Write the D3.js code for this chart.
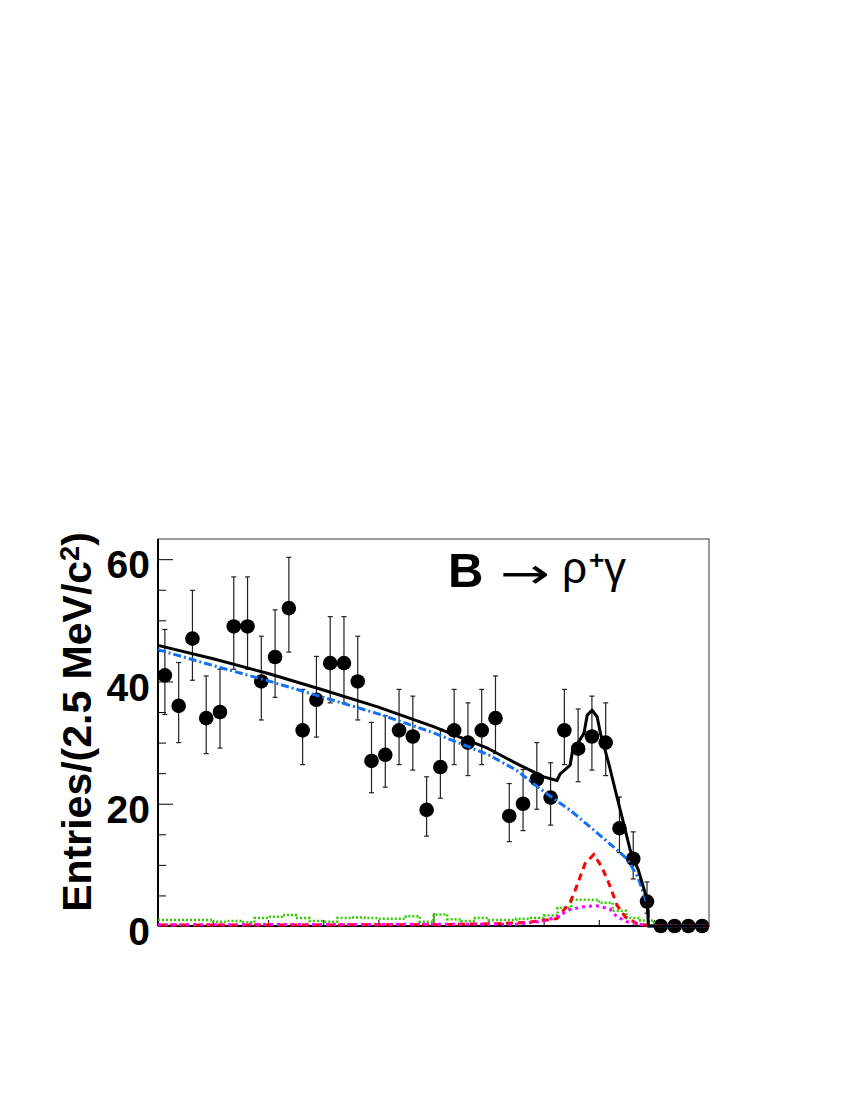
<!DOCTYPE html>
<html>
<head>
<meta charset="utf-8">
<script src="https://cdn.jsdelivr.net/npm/d3@7"></script>
<style>
  body { margin: 0; background: white; }
  svg { display: block; }
  .axis path { display: none; }
  .axis line { stroke: black; stroke-width: 1px; }
</style>
</head>
<body>
<div id="chart"></div>
<script>
// bin centres (2.5 MeV bins) and data
var binCenters = [5.20125, 5.20375, 5.20625, 5.20875, 5.21125, 5.21375, 5.21625, 5.21875,
  5.22125, 5.22375, 5.22625, 5.22875, 5.23125, 5.23375, 5.23625, 5.23875,
  5.24125, 5.24375, 5.24625, 5.24875, 5.25125, 5.25375, 5.25625, 5.25875,
  5.26125, 5.26375, 5.26625, 5.26875, 5.27125, 5.27375, 5.27625, 5.27875,
  5.28125, 5.28375, 5.28625, 5.28875, 5.29125, 5.29375, 5.29625, 5.29875];
var counts = [41, 36, 47, 34, 35, 49, 49, 40, 44, 52, 32, 37, 43, 43, 40, 27, 28, 32, 31, 19,
  26, 32, 30, 32, 34, 18, 20, 24, 21, 32, 29, 31, 30, 16, 11, 4, 0, 0, 0, 0];
var errUp = [7.5, 7.1, 7.9, 6.9, 7.0, 8.1, 8.1, 7.4, 7.7, 8.3, 6.7, 7.1, 7.6, 7.6, 7.4, 6.3, 6.4, 6.7, 6.6, 5.4,
  6.2, 6.7, 6.5, 6.7, 6.9, 5.3, 5.6, 6.0, 5.7, 6.7, 6.5, 6.6, 6.5, 5.1, 4.4, 3.2, 0, 0, 0, 0];
var errDown = [6.4, 6.0, 6.8, 5.8, 5.9, 7.0, 7.0, 6.3, 6.6, 7.2, 5.6, 6.1, 6.5, 6.5, 6.3, 5.2, 5.3, 5.6, 5.5, 4.3,
  5.1, 5.6, 5.4, 5.6, 5.8, 4.2, 4.4, 4.9, 4.5, 5.6, 5.4, 5.5, 5.4, 4.0, 3.3, 1.9, 0, 0, 0, 0];

// fit components
var totalMass = [5.200, 5.210, 5.220, 5.230, 5.240, 5.250, 5.260, 5.265, 5.270, 5.2724, 5.2730, 5.2748,
  5.2752, 5.2773, 5.2779, 5.2788, 5.2797, 5.2803, 5.2818, 5.2833, 5.2845, 5.2857, 5.2872, 5.2888, 5.2890, 5.300];
var totalVal = [45.9, 43.7, 41.3, 38.6, 35.8, 32.6, 29.0, 26.6, 24.4, 23.8, 24.9, 26.3,
  28.5, 31.5, 34.5, 35.3, 34.2, 31.5, 26.6, 21.1, 16.8, 12.4, 9.1, 4.2, 0, 0];

var argusMass = [5.200, 5.210, 5.220, 5.230, 5.240, 5.250, 5.260, 5.265, 5.270, 5.275, 5.280,
  5.2831, 5.2851, 5.2871, 5.2884, 5.2890, 5.2890, 5.300];
var argusVal = [45.2, 42.6, 40.1, 37.4, 34.7, 31.6, 28.0, 25.5, 22.0, 18.8, 15.0,
  12.6, 11.0, 8.0, 4.6, 2.5, 0, 0];

var signalMass = [5.200, 5.250, 5.262, 5.267, 5.2724, 5.2748, 5.2757, 5.2766, 5.2775, 5.2791,
  5.2805, 5.2816, 5.2824, 5.2833, 5.2848, 5.2869, 5.2890, 5.300];
var signalVal = [0.15, 0.2, 0.4, 0.6, 1.2, 3.9, 5.8, 8.0, 10.2, 11.7,
  9.7, 7.5, 5.6, 3.4, 1.5, 0.4, 0.1, 0];

var crossMass = [5.200, 5.265, 5.270, 5.2724, 5.2748, 5.2775, 5.2796, 5.2820, 5.2833, 5.2851, 5.2872, 5.2890, 5.300];
var crossVal = [0.2, 0.3, 0.8, 1.5, 2.7, 3.2, 3.3, 2.8, 1.5, 0.7, 0.3, 0.1, 0];

var bbarPerBin = [1.0, 1.0, 1.0, 1.0, 0.7, 0.8, 0.6, 1.3, 1.5, 1.8, 1.3, 0.8, 0.7, 1.3, 1.4, 1.3, 1.2, 1.2, 1.6, 0.7,
  1.9, 1.1, 0.8, 1.3, 1.0, 1.0, 1.2, 1.3, 1.7, 3.0, 4.3, 4.3, 3.8, 2.5, 1.3, 0.9, 0, 0, 0, 0];

var yMajorTicks = [0, 20, 40, 60];
var yMinorTicks = [5, 10, 15, 25, 30, 35, 45, 50, 55];
var xMajorTicks = [5.25];
var xMinorTicks = [5.21, 5.22, 5.23, 5.24, 5.26, 5.27, 5.28, 5.29];

var binWidth = 0.0025;

var frame = { left: 158, right: 709, top: 539, bottom: 926 };

var svg = d3.select('#chart').append('svg')
  .attr('width', 850)
  .attr('height', 1100);

var x = d3.scaleLinear().domain([5.20, 5.30]).range([frame.left, frame.right]);
var y = d3.scaleLinear().domain([0, 63.3]).range([frame.bottom, frame.top]);

// frame top / right
svg.append('rect')
  .attr('x', frame.left).attr('y', frame.top)
  .attr('width', frame.right - frame.left).attr('height', frame.bottom - frame.top)
  .attr('fill', 'none').attr('stroke', '#333').attr('stroke-width', 1);

// axes with ticks pointing into the frame
var yMajor = svg.append('g').attr('class', 'axis')
  .attr('transform', 'translate(' + frame.left + ',0)')
  .call(d3.axisLeft(y).tickValues(yMajorTicks).tickSize(-15).tickPadding(8));
yMajor.selectAll('text')
  .attr('font-family', 'Liberation Sans, Arial, sans-serif')
  .attr('font-weight', 'bold')
  .attr('font-size', '39px')
  .attr('fill', 'black')
  .attr('dy', '0.48em');

svg.append('g').attr('class', 'axis')
  .attr('transform', 'translate(' + frame.left + ',0)')
  .call(d3.axisLeft(y).tickValues(yMinorTicks).tickSize(-8).tickFormat(''));

svg.append('g').attr('class', 'axis')
  .attr('transform', 'translate(0,' + frame.bottom + ')')
  .call(d3.axisBottom(x).tickValues(xMajorTicks).tickSize(-13).tickFormat(''));
svg.append('g').attr('class', 'axis')
  .attr('transform', 'translate(0,' + frame.bottom + ')')
  .call(d3.axisBottom(x).tickValues(xMinorTicks).tickSize(-6).tickFormat(''));

// thick left and bottom axis lines
svg.append('line')
  .attr('x1', frame.left).attr('x2', frame.left)
  .attr('y1', frame.top).attr('y2', frame.bottom)
  .attr('stroke', 'black').attr('stroke-width', 2);
svg.append('line')
  .attr('x1', frame.left).attr('x2', frame.right)
  .attr('y1', frame.bottom).attr('y2', frame.bottom)
  .attr('stroke', 'black').attr('stroke-width', 2);

// data points
var pts = binCenters.map(function(m, i) {
  return { m: m, n: counts[i], up: errUp[i], dn: errDown[i] };
});

var bars = svg.append('g');
pts.filter(function(d) { return d.n > 0; }).forEach(function(d) {
  var cx = x(d.m);
  bars.append('line')
    .attr('x1', cx).attr('x2', cx)
    .attr('y1', y(d.n + d.up)).attr('y2', y(d.n - d.dn))
    .attr('stroke', '#222').attr('stroke-width', 1.2);
  [d.n + d.up, d.n - d.dn].forEach(function(v) {
    bars.append('line')
      .attr('x1', cx - 2.5).attr('x2', cx + 2.5)
      .attr('y1', y(v)).attr('y2', y(v))
      .attr('stroke', '#222').attr('stroke-width', 1.2);
  });
});

svg.append('g').selectAll('circle')
  .data(pts)
  .enter()
  .append('circle')
  .attr('cx', function(d) { return x(d.m); })
  .attr('cy', function(d) { return y(d.n); })
  .attr('r', 7.3)
  .attr('fill', 'black');

// curves
var line = d3.line()
  .x(function(d) { return x(d[0]); })
  .y(function(d) { return y(d[1]); });

function zip(a, b) {
  return a.map(function(v, i) { return [v, b[i]]; });
}

// green: BBbar background histogram
var bbarPts = binCenters.map(function(m, i) { return [m - binWidth / 2, bbarPerBin[i]]; });
bbarPts.push([5.30, 0]);
svg.append('path')
  .attr('d', d3.line().curve(d3.curveStepAfter)
    .x(function(d) { return x(d[0]); })
    .y(function(d) { return y(d[1]); })(bbarPts))
  .attr('fill', 'none').attr('stroke', '#33cc00').attr('stroke-width', 2.5)
  .attr('stroke-dasharray', '2,2');

svg.append('path')
  .attr('d', line(zip(signalMass, signalVal)))
  .attr('fill', 'none').attr('stroke', '#ff0000').attr('stroke-width', 3)
  .attr('stroke-dasharray', '7,5');

svg.append('path')
  .attr('d', line(zip(crossMass, crossVal)))
  .attr('fill', 'none').attr('stroke', '#ff00ff').attr('stroke-width', 3)
  .attr('stroke-dasharray', '3,4');

svg.append('path')
  .attr('d', line(zip(argusMass, argusVal)))
  .attr('fill', 'none').attr('stroke', '#1170f5').attr('stroke-width', 3)
  .attr('stroke-dasharray', '8,3,2,3');

svg.append('path')
  .attr('d', line(zip(totalMass, totalVal)))
  .attr('fill', 'none').attr('stroke', 'black').attr('stroke-width', 3)
  .attr('stroke-linejoin', 'round');

// title inside the frame
var title = svg.append('g')
  .attr('font-family', 'Liberation Sans, Arial, sans-serif')
  .attr('fill', 'black');
title.append('text')
  .attr('x', 448).attr('y', 587)
  .attr('font-size', '49px').attr('font-weight', 'bold')
  .text('B');
title.append('text')
  .attr('x', 500).attr('y', 588)
  .attr('font-family', 'DejaVu Sans, sans-serif')
  .attr('font-size', '42px')
  .attr('textLength', 50).attr('lengthAdjust', 'spacingAndGlyphs')
  .text('→');
title.append('text')
  .attr('x', 562).attr('y', 583)
  .attr('font-size', '44px')
  .text('ρ');
title.append('text')
  .attr('x', 589).attr('y', 569)
  .attr('font-size', '26px').attr('font-weight', 'bold')
  .text('+');
title.append('text')
  .attr('x', 604).attr('y', 583)
  .attr('font-size', '44px')
  .text('γ');

// y axis title
var ytitle = svg.append('text')
  .attr('transform', 'translate(91,722) rotate(-90)')
  .attr('text-anchor', 'middle')
  .attr('font-family', 'Liberation Sans, Arial, sans-serif')
  .attr('font-weight', 'bold')
  .attr('font-size', '41px')
  .attr('fill', 'black');
ytitle.append('tspan').text('Entries/(2.5 MeV/c');
ytitle.append('tspan').attr('dy', '-0.45em').attr('font-size', '27px').text('2');
ytitle.append('tspan').attr('dy', '0.29em').text(')');
</script>
</body>
</html>
